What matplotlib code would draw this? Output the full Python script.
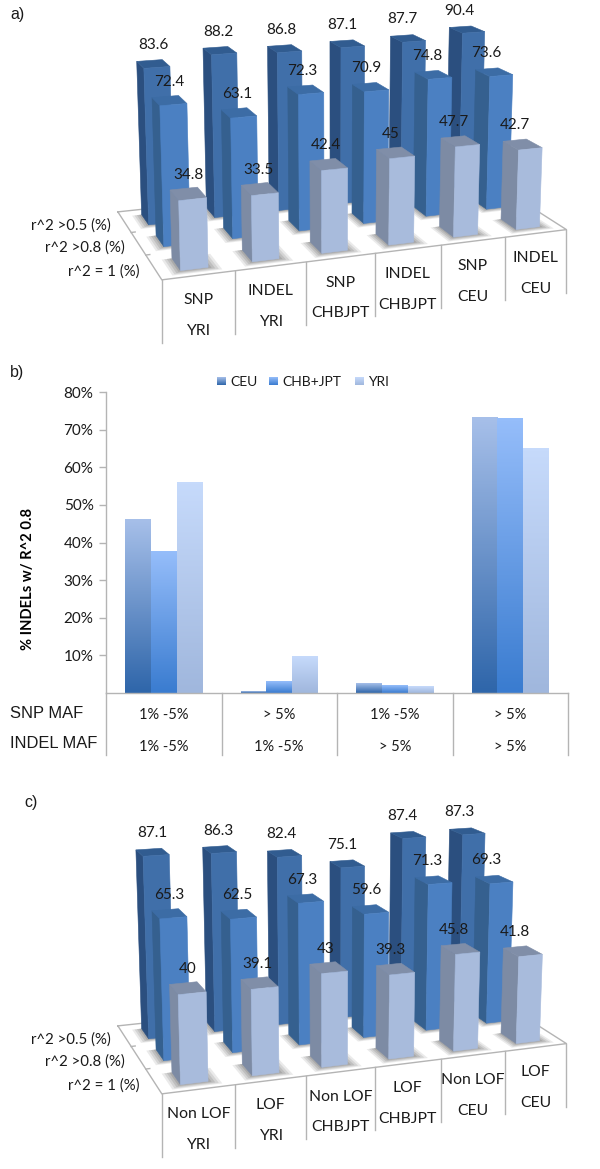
import numpy as np
import matplotlib
matplotlib.use('Agg')
import matplotlib.pyplot as plt
from matplotlib.colors import LinearSegmentedColormap
from matplotlib.patches import Polygon

plt.rcParams['font.family'] = ['Lato', 'DejaVu Sans']

# panel a
a_columns = [['SNP', 'YRI'], ['INDEL', 'YRI'], ['SNP', 'CHBJPT'],
             ['INDEL', 'CHBJPT'], ['SNP', 'CEU'], ['INDEL', 'CEU']]
a_back = [83.6, 88.2, 86.8, 87.1, 87.7, 90.4]
a_middle = [72.4, 63.1, 72.3, 70.9, 74.8, 73.6]
a_front = [34.8, 33.5, 42.4, 45, 47.7, 42.7]

# panel c
c_columns = [['Non LOF', 'YRI'], ['LOF', 'YRI'], ['Non LOF', 'CHBJPT'],
             ['LOF', 'CHBJPT'], ['Non LOF', 'CEU'], ['LOF', 'CEU']]
c_back = [87.1, 86.3, 82.4, 75.1, 87.4, 87.3]
c_middle = [65.3, 62.5, 67.3, 59.6, 71.3, 69.3]
c_front = [40, 39.1, 43, 39.3, 45.8, 41.8]

depth_labels = ['r^2 >0.5 (%)', 'r^2 >0.8 (%)', 'r^2 = 1 (%)']

# panel b
b_snp_maf = ['1% -5%', '> 5%', '1% -5%', '> 5%']
b_indel_maf = ['1% -5%', '1% -5%', '> 5%', '> 5%']
b_ceu = [46.1, 0.3, 2.6, 73.3]
b_chb = [37.6, 3.0, 2.0, 73.0]
b_yri = [56.0, 9.7, 1.7, 65.0]
b_names = ['CEU', 'CHB+JPT', 'YRI']
b_ticks = [10, 20, 30, 40, 50, 60, 70, 80]

# colours of front, side and top faces, back row first
FACES = [('#406fa9', '#2b4f7f', '#315c90'),
         ('#4b80c2', '#35608f', '#3c6ca5'),
         ('#a8bbdc', '#7d8ba4', '#808ea8')]
GRADIENTS = [('#2f66aa', '#a6bfe9'), ('#3a7cd0', '#95bdfa'), ('#a0b7dd', '#c6dafb')]
GREY = '#b4b4b4'
TEXT = '#1a1a1a'

HALF_W = 0.19
HALF_D = 0.25

# camera fit: column, depth, value and the pixel where that point sits in panel a
CALIBRATION = np.array([
    [0, 0, 0, 162, 280], [1, 0, 0, 236, 271], [2, 0, 0, 307, 262], [3, 0, 0, 376, 254],
    [4, 0, 0, 442, 246], [5, 0, 0, 505, 238], [6, 0, 0, 567, 230], [0, 3, 0, 116, 212],
    [.31, .25, 0, 179, 269], [.69, .25, 0, 207, 266], [.31, .75, 0, 173, 258],
    [.31, .25, 34.8, 180, 202], [.69, .25, 34.8, 205, 197], [.69, .75, 34.8, 197, 188],
    [.31, .75, 34.8, 171, 193],
    [5.31, .25, 0, 514, 229], [5.69, .25, 0, 539, 226], [5.31, .75, 0, 503, 220],
    [5.31, .25, 42.7, 517, 148], [5.69, .25, 42.7, 542, 146], [5.69, .75, 42.7, 528, 140],
    [5.31, .75, 42.7, 504, 144],
    [.31, 2.25, 0, 148, 225], [.31, 2.75, 0, 143, 213],
    [.31, 2.25, 83.6, 143, 67], [.69, 2.25, 83.6, 168, 66], [.69, 2.75, 83.6, 165, 60],
    [.31, 2.75, 83.6, 137, 62],
    [5.31, 2.25, 90.4, 460, 32], [5.69, 2.25, 90.4, 483, 31], [5.69, 2.75, 90.4, 474, 27],
    [5.31, 2.75, 90.4, 450, 29],
    [5.31, 1.25, 73.6, 488, 75], [5.69, 1.25, 73.6, 512, 73], [5.69, 1.75, 73.6, 499, 68],
    [5.31, 1.75, 73.6, 477, 71], [5.31, 1.25, 0, 484, 209],
])


def fit_camera(points):
    rows = []
    rhs = []
    for u, d, z, x, y in points:
        rows.append([u, d, z, 1, 0, 0, 0, 0, -x * u, -x * d, -x * z])
        rows.append([0, 0, 0, 0, u, d, z, 1, -y * u, -y * d, -y * z])
        rhs += [x, y]
    p = np.linalg.lstsq(np.array(rows), np.array(rhs), rcond=None)[0]
    return np.append(p, 1).reshape(3, 4)


CAMERA = fit_camera(CALIBRATION)


def project(u, d, z, z_scale, y_shift):
    v = CAMERA @ np.array([u, d, z * z_scale, 1.0])
    return v[0] / v[2], v[1] / v[2] + y_shift


def draw_box(ax, col, row, value, faces, z_scale, y_shift):
    u0, u1 = col + 0.5 - HALF_W, col + 0.5 + HALF_W
    d0, d1 = row + 0.5 - HALF_D, row + 0.5 + HALF_D
    p = lambda u, d, z: project(u, d, z, z_scale, y_shift)
    # left side, then top, then front
    quads = [([p(u0, d1, 0), p(u0, d0, 0), p(u0, d0, value), p(u0, d1, value)], faces[1]),
             ([p(u0, d0, value), p(u1, d0, value), p(u1, d1, value), p(u0, d1, value)], faces[2]),
             ([p(u0, d0, 0), p(u1, d0, 0), p(u1, d0, value), p(u0, d0, value)], faces[0])]
    for quad, colour in quads:
        ax.add_patch(Polygon(quad, closed=True, fc=colour, ec=colour, lw=0.4, zorder=3))


def draw_shadow(ax, col, row, z_scale, y_shift):
    for grow, alpha in zip([0.16, 0.12, 0.08, 0.04], [0.14, 0.18, 0.22, 0.26]):
        u0, u1 = col + 0.5 - HALF_W - grow * 0.9, col + 0.5 + HALF_W + grow
        d0, d1 = row + 0.5 - HALF_D - grow * 0.9, row + 0.5 + HALF_D
        quad = [project(u, d, 0, z_scale, y_shift) for u, d in
                [(u0, d0), (u1, d0), (u1, d1), (u0, d1)]]
        ax.add_patch(Polygon(quad, closed=True, fc='#707070', ec='none', alpha=alpha, zorder=2))


def draw_3d_panel(ax, columns, back, middle, front, z_scale, y_shift):
    p = lambda u, d: project(u, d, 0, z_scale, y_shift)
    # floor outline
    outline = [p(0, 3), p(0, 0), p(6, 0), p(6, 3), p(0, 3)]
    ax.plot(*zip(*outline), color=GREY, lw=1, zorder=1)
    for k in [1, 2]:
        x0, y0 = p(0, k)
        ax.plot([x0, x0 + 4], [y0, y0 - 0.5], color=GREY, lw=1, zorder=1)

    # table hanging below the front edge
    for i in range(7):
        x, y = p(i, 0)
        ax.plot([x, x], [y, y + 63], color=GREY, lw=1, zorder=1)
    for i, lines in enumerate(columns):
        x0, y0 = p(i, 0)
        x1, y1 = p(i + 1, 0)
        ax.text((x0 + x1) / 2, (y0 + y1) / 2 + 25, lines[0], ha='center', va='center',
                fontsize=11.3, color=TEXT)
        ax.text((x0 + x1) / 2, (y0 + y1) / 2 + 55.5, lines[1], ha='center', va='center',
                fontsize=11.3, color=TEXT)

    for k, name in enumerate(depth_labels):
        x, y = p(0, 2.5 - k)
        ax.text(x - 14, y + 4, name, ha='right', va='center', fontsize=10.8, color=TEXT)

    rows = [(2, back), (1, middle), (0, front)]
    for row, values in rows:
        for i in range(len(values)):
            draw_shadow(ax, i, row, z_scale, y_shift)
    for (row, values), faces in zip(rows, FACES):
        for i, value in enumerate(values):
            draw_box(ax, i, row, value, faces, z_scale, y_shift)
    for row, values in rows:
        for i, value in enumerate(values):
            x, y = project(i + 0.5, row + 0.5, value, z_scale, y_shift)
            ax.text(x - 1.5 * i, y - 19, f'{value:g}', ha='center', va='center',
                    fontsize=11, color=TEXT, zorder=5)


def draw_gradient_bar(ax, x0, x1, y0, y1, colours):
    cmap = LinearSegmentedColormap.from_list('bar', colours)
    ax.imshow(np.linspace(1, 0, 64).reshape(-1, 1), cmap=cmap, vmin=0, vmax=1,
              extent=[x0, x1, y0, y1], aspect='auto', zorder=2, interpolation='bilinear')


fig = plt.figure(figsize=(6, 11.69), dpi=100)
page = fig.add_axes([0, 0, 1, 1])
page.set_xlim(0, 600)
page.set_ylim(1169, 0)
page.axis('off')

draw_3d_panel(page, a_columns, a_back, a_middle, a_front, 1.0, 0)
draw_3d_panel(page, c_columns, c_back, c_middle, c_front, 1.115, 814)

for letter, x, y in [('a)', 10, 15), ('b)', 10, 373), ('c)', 24, 802)]:
    page.text(x, y, letter, ha='left', va='center', fontsize=11.5,
              family=['Liberation Sans'], color=TEXT)

# panel b is an ordinary bar chart
left, right, top, bottom = 106, 568, 392, 693
ax = fig.add_axes([left / 600, 1 - bottom / 1169, (right - left) / 600, (bottom - top) / 1169])
ax.patch.set_alpha(0)
bar_w = 2 / 9
for j, values in enumerate([b_ceu, b_chb, b_yri]):
    for i, value in enumerate(values):
        x0 = i + 0.5 + (j - 1.5) * bar_w
        draw_gradient_bar(ax, x0, x0 + bar_w, 0, value, GRADIENTS[j])
ax.set_xlim(0, 4)
ax.set_ylim(0, 80)
for side in ['top', 'right']:
    ax.spines[side].set_visible(False)
for side in ['left', 'bottom']:
    ax.spines[side].set_color(GREY)
    ax.spines[side].set_linewidth(1)
ax.set_xticks([])
ax.set_yticks(b_ticks)
ax.set_yticklabels([f'{t}%' for t in b_ticks], fontsize=11, color=TEXT)
ax.tick_params(axis='y', length=5, width=1, color=GREY, pad=4)
ax.set_ylabel('% INDELs w/ R^2 0.8', fontsize=10.6, fontweight='bold', color='black', labelpad=0)
ax.yaxis.set_label_coords(-71 / (right - left), 0.38)

table_x = left + (right - left) * np.arange(5) / 4
for x in table_x:
    page.plot([x, x], [bottom, 755], color=GREY, lw=1)
for i in range(4):
    x = (table_x[i] + table_x[i + 1]) / 2
    page.text(x, 715, b_snp_maf[i], ha='center', va='center', fontsize=10.5, color=TEXT)
    page.text(x, 747, b_indel_maf[i], ha='center', va='center', fontsize=10.5, color=TEXT)
page.text(10, 713, 'SNP MAF', ha='left', va='center', fontsize=11.9,
          family=['Liberation Sans'], color=TEXT)
page.text(10, 743, 'INDEL MAF', ha='left', va='center', fontsize=11.9,
          family=['Liberation Sans'], color=TEXT)

# legend, built by hand so the swatches keep the gradient
for name, colours, x in zip(b_names, GRADIENTS, [217, 269, 355]):
    draw_gradient_bar(page, x, x + 9, 385, 377, colours)
    page.text(x + 13, 382, name, ha='left', va='center', fontsize=10, color=TEXT)
page.set_xlim(0, 600)
page.set_ylim(1169, 0)

fig.savefig('out.png', dpi=100)
